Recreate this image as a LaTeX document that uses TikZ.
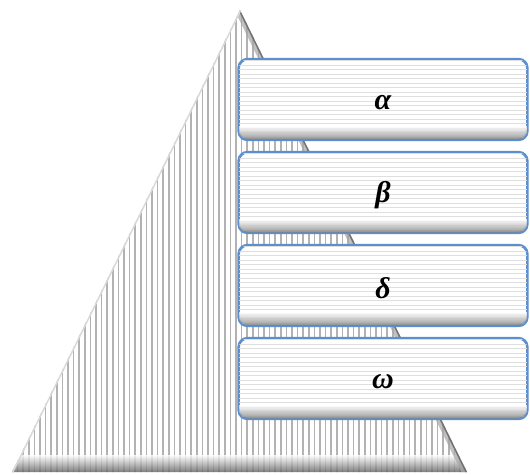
\documentclass[tikz,border=0pt]{standalone}
\usepackage{fontspec}
\newfontfamily\greekfont{Liberation Serif}
\usetikzlibrary{shadings}
\definecolor{boxblue}{HTML}{5B8FD0}
\tikzset{
  levelbox/.style={draw=boxblue, line width=1.6pt, rounded corners=9pt, fill=white, minimum width=288pt, minimum height=80pt, inner sep=0pt},
  levellabel/.style={font=\greekfont\bfseries\itshape\fontsize{30}{33}\selectfont, text=black},
}
\begin{document}
\begin{tikzpicture}[x=1pt,y=-1pt]
\useasboundingbox (0,0) rectangle (530,474);
% pyramid
\coordinate (apex) at (240,10);
\coordinate (bl) at (12,472);
\coordinate (br) at (467,472);
\begin{scope}
  \clip (apex) -- (br) -- (bl) -- cycle;
  \fill[white] (0,0) rectangle (530,474);
  \foreach \x in {12,17.6,...,470} {
    \draw[gray!60, line width=1.5pt] (\x,0) -- (\x,474);
  }
  \shade[top color=white, bottom color=black!70, opacity=0.8] (0,455) rectangle (530,474);
  \draw[black!35, line width=10pt, opacity=0.7] (apex) -- (br);
  \draw[black!55, line width=3pt] (apex) -- (br);
  \draw[white!85!black, line width=3pt] (apex) -- (bl);
\end{scope}
% level boxes
\foreach \n/\y/\t in {a/99.5/α, b/192.5/β, c/285.5/δ, d/378.5/ω} {
  \node[levelbox] (\n) at (383,\y) {};
  \begin{scope}
    \clip[rounded corners=9pt] (\n.south west) rectangle (\n.north east);
    \foreach \k in {0,4.5,...,80} {
      \draw[gray!25, line width=1pt] ([yshift=-\k pt-2pt]\n.north west) -- ([yshift=-\k pt-2pt]\n.north east);
    }
    \shade[top color=white, bottom color=black!55, opacity=0.8] ([yshift=14pt]\n.south west) rectangle (\n.south east);
  \end{scope}
  \draw[boxblue, line width=1.6pt, rounded corners=9pt] (\n.south west) rectangle (\n.north east);
  \node[levellabel] (\n l) at ([yshift=-3pt]\n.center) {\t};
}
\end{tikzpicture}
\end{document}
